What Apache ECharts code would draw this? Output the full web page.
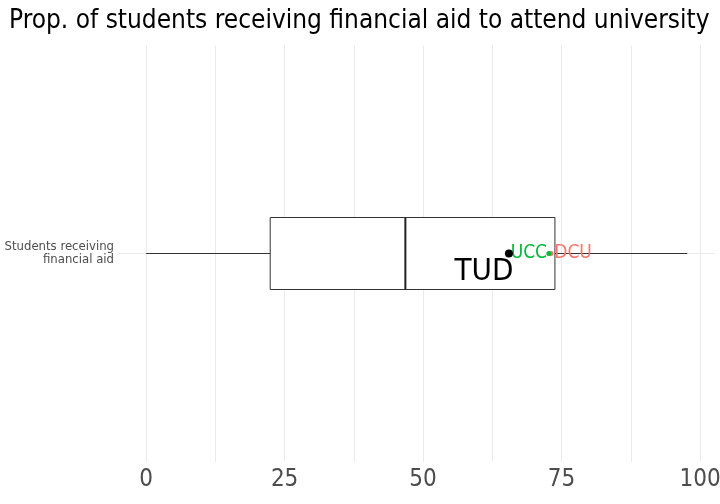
<!DOCTYPE html>
<html><head><meta charset="utf-8">
<script src="https://cdn.jsdelivr.net/npm/echarts@6/dist/echarts.min.js"></script>
<style>html,body{margin:0;padding:0;background:#fff}#c{width:720px;height:504px}</style>
</head><body><div id="c"></div>
<script>
const titleText = 'Prop. of students receiving financial aid to attend university';
const categories = ['Students receiving\nfinancial aid'];
const boxStats = [0, 22.4, 46.8, 73.8, 97.7]; // min, Q1, median, Q3, max
const tickValues = [0, 25, 50, 75, 100];
const gridValues = [0, 12.5, 25, 37.5, 50, 62.5, 75, 87.5, 100];
const pointNames = ['DCU', 'UCC', 'TUD'];
const pointValues = [73.1, 72.7, 65.5];
const pointColors = ['#F8766D', '#00BA38', '#000000'];

const FONT = '"Liberation Sans Narrow","DejaVu Sans Condensed","Roboto Condensed",sans-serif';
const labelStyles = {
  DCU: {fontSize: 19, offset: [22, 0], size: 5},
  UCC: {fontSize: 19, offset: [-20, 0], size: 5},
  TUD: {fontSize: 31, offset: [-25, 18], size: 8}
};

const chart = echarts.init(document.getElementById('c'), null, {renderer: 'canvas'});

const pointSeries = pointNames.map((n, i) => ({
  type: 'scatter',
  name: n,
  z: 5 + i,
  symbolSize: labelStyles[n].size,
  itemStyle: {color: pointColors[i], opacity: 1},
  data: [{value: [pointValues[i], 0], name: n}],
  label: {
    show: true,
    formatter: n,
    position: 'inside',
    offset: labelStyles[n].offset,
    color: pointColors[i],
    fontSize: labelStyles[n].fontSize,
    fontFamily: FONT
  }
}));

chart.setOption({
  animation: false,
  title: {
    text: titleText, left: 4, top: 3,
    textStyle: {fontFamily: FONT, fontWeight: 'normal', fontSize: 26, color: '#000'}
  },
  grid: {left: 119, right: 5, top: 45, bottom: 42, containLabel: false, outerBoundsMode: 'none'},
  xAxis: {
    type: 'value', min: -4.9, max: 102.7,
    axisLine: {show: false}, axisTick: {show: false}, splitLine: {show: false},
    axisLabel: {customValues: tickValues, color: '#4d4d4d', fontSize: 24, fontFamily: FONT, margin: 6}
  },
  yAxis: {
    type: 'category', data: categories,
    axisLine: {show: false}, axisTick: {show: false}, splitLine: {show: false},
    axisLabel: {color: '#4d4d4d', fontSize: 13, fontFamily: FONT, lineHeight: 13, align: 'right', margin: 5}
  },
  series: [
    {
      type: 'custom',
      z: 2,
      data: [[0].concat(boxStats)],
      renderItem: function (params, api) {
        const yi = api.value(0);
        const pMin = api.coord([api.value(1), yi]);
        const pQ1 = api.coord([api.value(2), yi]);
        const pMed = api.coord([api.value(3), yi]);
        const pQ3 = api.coord([api.value(4), yi]);
        const pMax = api.coord([api.value(5), yi]);
        const h = 36;
        const y = pMin[1];
        const line = {stroke: '#333', lineWidth: 1};
        return {
          type: 'group',
          children: [
            {type: 'line', shape: {x1: pMin[0], y1: y, x2: pQ1[0], y2: y}, style: line},
            {type: 'line', shape: {x1: pQ3[0], y1: y, x2: pMax[0], y2: y}, style: line},
            {type: 'rect', shape: {x: pQ1[0], y: y - h, width: pQ3[0] - pQ1[0], height: 2 * h}, style: {fill: '#fff', stroke: '#333', lineWidth: 1}},
            {type: 'line', shape: {x1: pMed[0], y1: y - h, x2: pMed[0], y2: y + h}, style: {stroke: '#222', lineWidth: 2}}
          ]
        };
      },
      markLine: {
        silent: true, symbol: 'none', z: 0,
        label: {show: false},
        lineStyle: {color: '#ebebeb', width: 1, type: 'solid'},
        data: gridValues.map(v => ({xAxis: v})).concat([{yAxis: 0}])
      }
    }
  ].concat(pointSeries)
});
</script>
</body></html>
